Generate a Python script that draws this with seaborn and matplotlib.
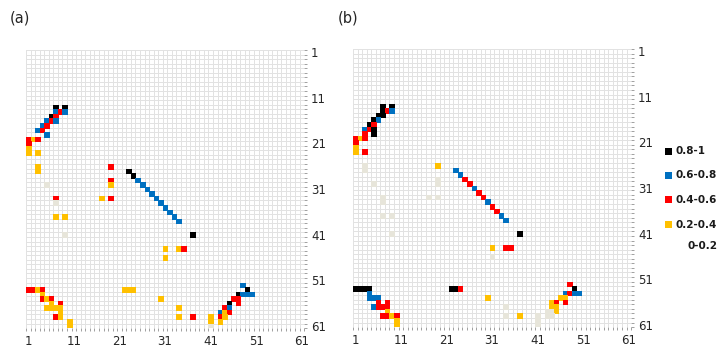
import numpy as np
import matplotlib
matplotlib.use("Agg")
import matplotlib.pyplot as plt
from matplotlib.colors import ListedColormap
from matplotlib.patches import Rectangle
from matplotlib.ticker import FixedLocator
import seaborn as sns

N = 61
TICKS = [1, 11, 21, 31, 41, 51, 61]
CLASS_LABELS = ["0-0.2", "0.2-0.4", "0.4-0.6", "0.6-0.8", "0.8-1"]
CLASS_COLORS = ["#E7E5DA", "#FFC000", "#FF0000", "#0070C0", "#000000"]
EMPTY_COLOR = "#FFFFFF"
PANELS = ["(a)", "(b)"]

# ---- panel (a): cells as (row, column), one list per class ----
A_00_02 = [(30, 5), (34, 7), (41, 9), (61, 41)]
A_02_04 = [(20, 2), (22, 1), (23, 1), (23, 3), (26, 3), (27, 3), (30, 19),
           (33, 17), (37, 7), (37, 9), (44, 31), (44, 34), (46, 31),
           (53, 3), (54, 4), (55, 5), (56, 6), (57, 5), (57, 6), (57, 7),
           (57, 8), (58, 8), (59, 8), (60, 10), (61, 10), (53, 22), (53, 23),
           (53, 24), (55, 30), (57, 34), (59, 34), (59, 41), (60, 41),
           (58, 44), (59, 44), (60, 43)]
A_04_06 = [(14, 8), (15, 7), (16, 6), (17, 5), (18, 4), (20, 1), (20, 3),
           (21, 1), (26, 19), (29, 19), (33, 19), (33, 7), (44, 35), (59, 37),
           (53, 1), (53, 2), (53, 4), (55, 4), (55, 6), (56, 8), (59, 7),
           (55, 46), (55, 47), (56, 47), (57, 44), (58, 45), (59, 43)]
A_06_08 = [(14, 7), (14, 9), (16, 5), (16, 7), (17, 4), (18, 3), (19, 5),
           (29, 25), (30, 26), (31, 27), (32, 28), (33, 29), (34, 30),
           (35, 31), (36, 32), (37, 33), (38, 34),
           (52, 48), (54, 48), (54, 49), (54, 50), (57, 45), (58, 43)]
A_08_10 = [(13, 7), (13, 9), (15, 6), (27, 23), (28, 24), (41, 37),
           (53, 49), (54, 47), (56, 45)]

# ---- panel (b) ----
B_00_02 = [(26, 3), (27, 3), (30, 5), (29, 19), (30, 19), (33, 7), (34, 7),
           (33, 17), (33, 19), (37, 7), (37, 9), (41, 9), (46, 31),
           (57, 34), (59, 34), (59, 41), (60, 41), (61, 41),
           (58, 43), (58, 44), (59, 43), (59, 44)]
B_02_04 = [(20, 2), (22, 1), (23, 1), (26, 19), (44, 31),
           (58, 8), (59, 9), (60, 10), (61, 10), (55, 30), (59, 37),
           (55, 46), (55, 47), (56, 44), (57, 44), (57, 45), (58, 45)]
B_04_06 = [(14, 8), (17, 5), (18, 4), (19, 3), (20, 1), (20, 3), (21, 1),
           (23, 3), (29, 25), (30, 26), (32, 28), (33, 29), (35, 31),
           (36, 32), (44, 34), (44, 35),
           (56, 6), (56, 8), (57, 6), (57, 7), (57, 8), (59, 7), (59, 8),
           (59, 10), (53, 24), (52, 48), (54, 48), (56, 45), (56, 47)]
B_06_08 = [(14, 9), (16, 6), (18, 3),
           (27, 23), (28, 24), (31, 27), (34, 30), (37, 33), (38, 34),
           (54, 4), (55, 4), (55, 5), (55, 6), (57, 5),
           (54, 47), (54, 49), (54, 50)]
B_08_10 = [(13, 7), (13, 9), (14, 7), (15, 6), (15, 7), (16, 5), (17, 4),
           (18, 5), (19, 5), (41, 37),
           (53, 1), (53, 2), (53, 3), (53, 4), (53, 22), (53, 23), (53, 49)]

PANEL_CLASSES = [
    [A_00_02, A_02_04, A_04_06, A_06_08, A_08_10],
    [B_00_02, B_02_04, B_04_06, B_06_08, B_08_10],
]


def class_matrix(class_lists):
    mat = np.zeros((N, N))
    for code, cells in enumerate(class_lists, start=1):
        for r, c in cells:
            mat[r - 1, c - 1] = code
    return mat


W, H = 724, 349
fig = plt.figure(figsize=(W / 100, H / 100), dpi=100)
sns.set_style("white")
plt.rcParams["font.family"] = ["DejaVu Sans"]

cmap = ListedColormap(CLASS_COLORS)
cell = 4.56
grid_px = N * cell
lefts = [26, 353]
tops = [50, 49]
label_x = [10, 338]

for i, classes in enumerate(PANEL_CLASSES):
    ax = fig.add_axes([lefts[i] / W, 1 - (tops[i] + grid_px) / H,
                       grid_px / W, grid_px / H])
    mat = class_matrix(classes)
    # empty sheet with its cell grid
    sns.heatmap(np.zeros((N, N)), cmap=ListedColormap([EMPTY_COLOR]),
                cbar=False, linewidths=0.5, linecolor="#E2E2E2", ax=ax)
    # filled cells on top, covering the grid lines
    sns.heatmap(mat, mask=(mat == 0), cmap=cmap, vmin=0.5, vmax=5.5,
                cbar=False, linewidths=0.4, linecolor="face", ax=ax)
    ax.set_xticks([t - 0.5 for t in TICKS])
    ax.set_xticklabels([str(t) for t in TICKS], rotation=0)
    ax.yaxis.tick_right()
    ax.set_yticks([t - 0.5 for t in TICKS])
    ax.set_yticklabels([str(t) for t in TICKS], rotation=0)
    ax.tick_params(axis="both", which="major", length=0, labelsize=8.5,
                   labelcolor="#262626")
    ax.tick_params(axis="x", pad=5)
    ax.tick_params(axis="y", pad=5, right=True, left=False)
    ax.xaxis.set_minor_locator(FixedLocator(np.arange(0, N + 1)))
    ax.yaxis.set_minor_locator(FixedLocator(np.arange(0, N + 1)))
    ax.tick_params(which="minor", bottom=True, right=True, left=False,
                   top=False, length=2.2, width=0.7, color="#A0A0A0")
    ax.set_xlabel("")
    ax.set_ylabel("")
    fig.text(label_x[i] / W, 1 - 18 / H, PANELS[i], fontsize=10.5,
             va="center", ha="left", color="#262626")

# legend
legend_y = [151, 175.5, 200, 224.5]
for k in range(4):
    code = 4 - k
    y = legend_y[k]
    fig.patches.append(Rectangle((665 / W, 1 - (y + 3.5) / H), 7 / W, 7 / H,
                                 transform=fig.transFigure,
                                 facecolor=CLASS_COLORS[code],
                                 edgecolor="none"))
    fig.text(676 / W, 1 - y / H, CLASS_LABELS[code], fontsize=7.5,
             fontweight="bold", va="center", ha="left", color="#1a1a1a")
fig.text(687 / W, 1 - 246 / H, CLASS_LABELS[0], fontsize=7.5,
         fontweight="bold", va="center", ha="left", color="#1a1a1a")

fig.savefig("out.png", dpi=100)
